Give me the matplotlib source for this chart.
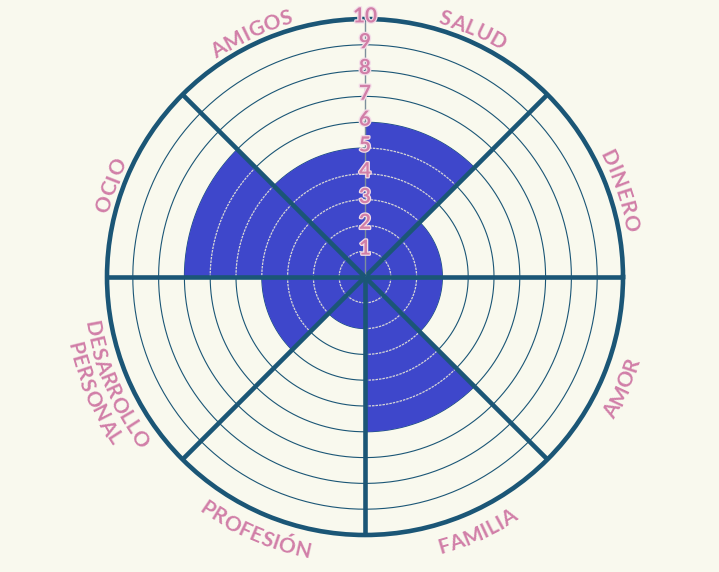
import matplotlib
matplotlib.use('Agg')
import matplotlib.pyplot as plt
import numpy as np
from matplotlib import patheffects
from matplotlib.font_manager import FontProperties
from matplotlib.textpath import text_to_path

# datos de la rueda
categorias = ['SALUD', 'DINERO', 'AMOR', 'FAMILIA', 'PROFESIÓN',
              'DESARROLLO\nPERSONAL', 'OCIO', 'AMIGOS']
valores = [6, 3, 3, 6, 2, 4, 7, 5]
niveles = list(range(1, 11))

# posicion angular (grados) del centro de cada etiqueta
ang_etiquetas = [66.5, 18.7, -23.4, -66.2, -113.4, -156.8, 160.2, 115.0]

fondo = '#f9f9ee'
azul = '#3e47cb'
linea = '#1b5676'
rosa = '#d17fa8'

W, H, dpi = 719, 572, 100
cx, cy, R = 365, 277, 258   # centro y radio de la rueda en pixeles
escala = R / 10.0           # pixeles por unidad

fig = plt.figure(figsize=(W / dpi, H / dpi), dpi=dpi, facecolor=fondo)
ax = fig.add_axes([(cx - R) / W, (H - cy - R) / H, 2 * R / W, 2 * R / H],
                  projection='polar')
ax.set_facecolor(fondo)
ax.set_ylim(0, 10)
ax.set_xticks([])
ax.set_yticks([])
ax.grid(False)
ax.spines['polar'].set_linewidth(3.3)
ax.spines['polar'].set_color(linea)
ax.spines['polar'].set_zorder(5)

n = len(categorias)
ancho = 2 * np.pi / n
centros = np.pi / 2 - ancho / 2 - np.arange(n) * ancho

# anillos oscuros
t = np.linspace(0, 2 * np.pi, 500)
for k in niveles[:-1]:
    ax.plot(t, np.full_like(t, k), color=linea, lw=0.8, zorder=1)

# sectores rellenos
ax.bar(centros, valores, width=ancho, bottom=0, color=azul, lw=0, zorder=2)

# anillos claros sobre el relleno
for c, v in zip(centros, valores):
    tt = np.linspace(c - ancho / 2, c + ancho / 2, 80)
    for k in range(1, v):
        ax.plot(tt, np.full_like(tt, k), color='#d6d6d6', lw=0.9,
                ls=(0, (2.0, 0.8)), zorder=3)

# radios
for a in np.arange(n) * ancho:
    if np.isclose(a, np.pi / 2):
        ax.plot([a, a], [0, 10], color='#7d8f9c', lw=1.0, zorder=4)
    else:
        ax.plot([a, a], [0, 10], color=linea, lw=3.3, zorder=4,
                solid_capstyle='butt')

# escala numerica
for k in niveles:
    ax.text(np.pi / 2, k + 0.1, str(k), ha='center', va='center',
            fontsize=15, fontweight='bold', color=rosa, family='Lato',
            zorder=6,
            path_effects=[patheffects.withStroke(linewidth=1.8,
                                                 foreground='#f3dde8')])

# etiquetas curvas
prop = FontProperties(family='Lato', size=15, weight='bold')
espacio = 0.5


def ancho_px(s):
    w, h, d = text_to_path.get_text_width_height_descent(s, prop, ismath=False)
    return w * dpi / 72.0


def texto_curvo(s, ang, r_px, arriba):
    anchos = [ancho_px(ch) + espacio for ch in s]
    pos = -sum(anchos) / 2
    for ch, w in zip(s, anchos):
        d = (pos + w / 2) / r_px
        if arriba:
            a = np.radians(ang) - d
            rot = np.degrees(a) - 90
        else:
            a = np.radians(ang) + d
            rot = np.degrees(a) + 90
        ax.text(a, r_px / escala, ch, rotation=rot, rotation_mode='anchor',
                ha='center', va='baseline', color=rosa, fontproperties=prop,
                zorder=6)
        pos += w


for nombre, ang in zip(categorias, ang_etiquetas):
    arriba = ang > -10
    lineas = nombre.split('\n')
    for j, s in enumerate(lineas):
        if arriba:
            texto_curvo(s, ang, 264 + 21 * j, True)
        elif len(lineas) == 1:
            texto_curvo(s, ang, 287, False)
        else:
            texto_curvo(s, ang, 284 + 21 * j, False)

fig.savefig('out.png', dpi=dpi, facecolor=fondo)
